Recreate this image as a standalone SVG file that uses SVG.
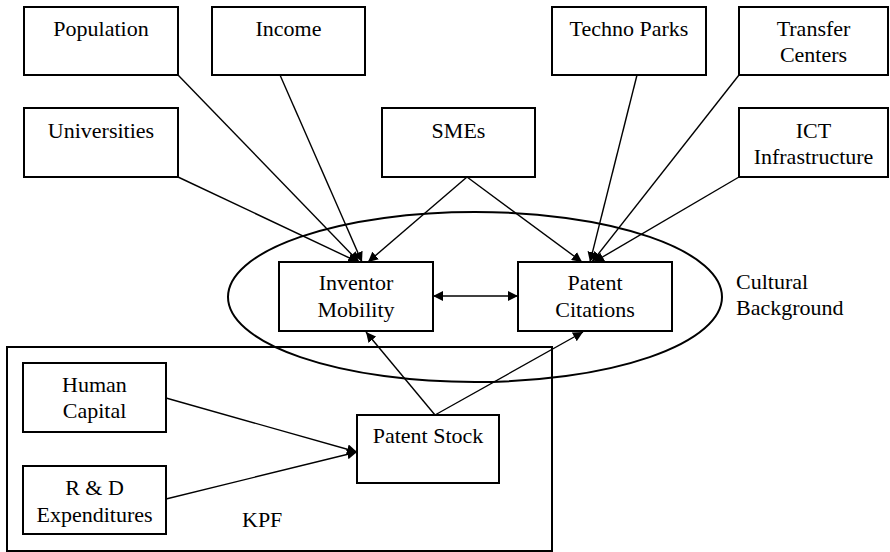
<svg xmlns="http://www.w3.org/2000/svg" width="890" height="552" viewBox="0 0 890 552">
<defs>
<style>
.box{fill:#fff;stroke:#000;stroke-width:2}
.frame{fill:none;stroke:#000;stroke-width:2}
text{font-family:"Liberation Serif","Times New Roman",serif;font-size:22px;fill:#000}
.c{text-anchor:middle}
.ln{stroke:#000;stroke-width:1.4;fill:none}
</style>
<marker id="ah" viewBox="0 0 10 10" refX="10" refY="5" markerWidth="10" markerHeight="10" markerUnits="userSpaceOnUse" orient="auto-start-reverse">
<path d="M0,0 L10,5 L0,10 Z" fill="#000"/>
</marker>
</defs>
<rect width="890" height="552" fill="#fff"/>
<g id="kpf">
<rect class="frame" x="7" y="347" width="545" height="204"/>
<text x="242" y="527">KPF</text>
</g>
<g id="cultural">
<ellipse cx="475" cy="297" rx="247" ry="85" fill="none" stroke="#000" stroke-width="2"/>
<text x="736" y="289">Cultural</text>
<text x="736" y="315">Background</text>
</g>
<g id="connectors">
<line class="ln" x1="178" y1="75" x2="359" y2="262" marker-end="url(#ah)"/>
<line class="ln" x1="280" y1="75" x2="362" y2="262" marker-end="url(#ah)"/>
<line class="ln" x1="178" y1="177" x2="358" y2="262" marker-end="url(#ah)"/>
<line class="ln" x1="467" y1="177" x2="368" y2="262" marker-end="url(#ah)"/>
<line class="ln" x1="467" y1="177" x2="582" y2="262" marker-end="url(#ah)"/>
<line class="ln" x1="637" y1="75" x2="590" y2="262" marker-end="url(#ah)"/>
<line class="ln" x1="739" y1="75" x2="592" y2="262" marker-end="url(#ah)"/>
<line class="ln" x1="739" y1="177" x2="594" y2="262" marker-end="url(#ah)"/>
<line class="ln" x1="433" y1="296" x2="518" y2="296" marker-start="url(#ah)" marker-end="url(#ah)"/>
<line class="ln" x1="435" y1="415" x2="366" y2="332" marker-end="url(#ah)"/>
<line class="ln" x1="435" y1="415" x2="583" y2="332" marker-end="url(#ah)"/>
<line class="ln" x1="166" y1="398" x2="357" y2="452" marker-end="url(#ah)"/>
<line class="ln" x1="166" y1="499" x2="357" y2="452" marker-end="url(#ah)"/>
</g>
<g id="population"><rect class="box" x="24" y="7" width="154" height="68"/><text class="c" x="101" y="36">Population</text></g>
<g id="income"><rect class="box" x="212" y="7" width="153" height="68"/><text class="c" x="288.5" y="36">Income</text></g>
<g id="technoparks"><rect class="box" x="552" y="7" width="154" height="68"/><text class="c" x="629" y="36">Techno Parks</text></g>
<g id="transfer"><rect class="box" x="739" y="7" width="149" height="68"/><text class="c" x="813.5" y="36">Transfer</text><text class="c" x="813.5" y="62">Centers</text></g>
<g id="universities"><rect class="box" x="24" y="108" width="154" height="69"/><text class="c" x="101" y="138">Universities</text></g>
<g id="smes"><rect class="box" x="382" y="108" width="153" height="69"/><text class="c" x="458.5" y="138">SMEs</text></g>
<g id="ict"><rect class="box" x="739" y="108" width="149" height="69"/><text class="c" x="813.5" y="138">ICT</text><text class="c" x="813.5" y="164">Infrastructure</text></g>
<g id="inventor"><rect class="box" x="279" y="262" width="154" height="69"/><text class="c" x="356" y="290">Inventor</text><text class="c" x="356" y="317">Mobility</text></g>
<g id="citations"><rect class="box" x="518" y="262" width="154" height="69"/><text class="c" x="595" y="290">Patent</text><text class="c" x="595" y="317">Citations</text></g>
<g id="human"><rect class="box" x="23" y="363" width="143" height="69"/><text class="c" x="94.5" y="392">Human</text><text class="c" x="94.5" y="418">Capital</text></g>
<g id="rd"><rect class="box" x="23" y="466" width="143" height="68"/><text class="c" x="94.5" y="495">R &amp; D</text><text class="c" x="94.5" y="522">Expenditures</text></g>
<g id="stock"><rect class="box" x="357" y="415" width="142" height="68"/><text class="c" x="428" y="443">Patent Stock</text></g>
</svg>
